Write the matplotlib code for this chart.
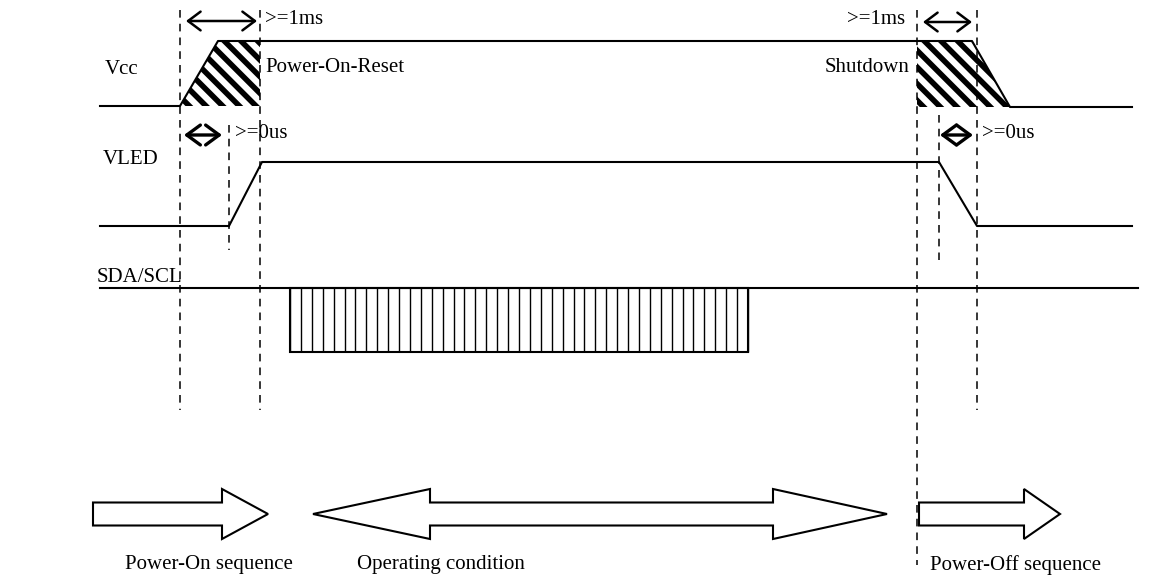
import numpy as np
import matplotlib
matplotlib.use("Agg")
import matplotlib.pyplot as plt
from matplotlib.patches import Polygon

plt.rcParams['font.family'] = ['Liberation Serif', 'DejaVu Serif']
plt.rcParams['hatch.linewidth'] = 4

# waveforms (pixel coords, y grows downward)
vcc_x = [100, 180, 218, 972, 1010, 1132]
vcc_y = [106, 106, 41, 41, 107, 107]
vled_x = [100, 229, 262, 939, 977, 1132]
vled_y = [226, 226, 162, 162, 226, 226]
sda_x = [100, 1138]
sda_y = [288, 288]
bus_box = [290, 748, 288, 352]   # x0, x1, y0, y1
bus_cells = 42

# hatched zones
por_zone = [(180, 106), (218, 41), (260, 41), (260, 106)]
sd_zone = [(917, 41), (972, 41), (1010, 107), (917, 107)]

# dashed markers: x, y0, y1
marks_x = [180, 260, 229, 917, 939, 977]
marks_y0 = [10, 10, 125, 10, 115, 10]
marks_y1 = [410, 410, 250, 565, 260, 410]

# timing arrows: x0, x1, y
big_arr = [(186, 257, 21), (923, 972, 22)]
small_arr = [(184, 222, 135), (940, 973, 135)]

# labels
sig_names = ["Vcc", "VLED", "SDA/SCL"]
sig_pos = [(105, 70), (103, 160), (97, 277)]
notes = [">=1ms", "Power-On-Reset", ">=0us", ">=1ms", "Shutdown", ">=0us"]
notes_pos = [(265, 20), (265, 68), (235, 133), (905, 20), (910, 68), (982, 133)]
notes_ha = ["left", "left", "left", "right", "right", "left"]

# sequence block arrows: tail, head base, tip (and left tip for double)
seq_names = ["Power-On sequence", "Operating condition", "Power-Off sequence"]
seq_text_x = [125, 357, 930]
seq_y = 514
arr1 = [93, 222, 268]
arr2 = [313, 430, 773, 887]
arr3 = [919, 1024, 1060]

fig = plt.figure(figsize=(11.58, 5.77), dpi=100)
ax = fig.add_axes([0, 0, 1, 1])
ax.set_xlim(0, 1158)
ax.set_ylim(577, 0)
ax.axis('off')

fs = 15

for zone in [por_zone, sd_zone]:
    ax.add_patch(Polygon(zone, closed=True, facecolor='white', edgecolor='black',
                         linewidth=0, hatch='\\\\', zorder=1))

ax.plot(vcc_x, vcc_y, color='black', lw=1.5, zorder=3)
ax.plot(vled_x, vled_y, color='black', lw=1.5, zorder=3)
ax.plot(sda_x, sda_y, color='black', lw=1.5, zorder=3)

bx0, bx1, by0, by1 = bus_box
ax.add_patch(plt.Rectangle((bx0, by0), bx1 - bx0, by1 - by0, fill=False,
                           edgecolor='black', lw=1.5, zorder=3))
ax.vlines(np.linspace(bx0, bx1, bus_cells + 1), by0, by1, color='black', lw=1, zorder=3)

for x, a, b in zip(marks_x, marks_y0, marks_y1):
    ax.plot([x, x], [a, b], color='black', lw=1.1, linestyle=(0, (5, 4)), zorder=2)

for x0, x1, y in big_arr:
    ax.annotate("", xy=(x1, y), xytext=(x0, y),
                arrowprops=dict(arrowstyle='<->,head_length=0.6,head_width=0.45',
                                lw=1.8, color='black', shrinkA=0, shrinkB=0,
                                mutation_scale=15))
for x0, x1, y in small_arr:
    ax.annotate("", xy=(x1, y), xytext=(x0, y),
                arrowprops=dict(arrowstyle='<->,head_length=0.75,head_width=0.55',
                                lw=2.4, color='black', shrinkA=0, shrinkB=0,
                                mutation_scale=13))

for name, (x, y) in zip(sig_names, sig_pos):
    ax.text(x, y, name, fontsize=fs, ha='left', va='center')
for s, (x, y), ha in zip(notes, notes_pos, notes_ha):
    ax.text(x, y, s, fontsize=fs, ha=ha, va='center')


def block_arrow(xs, yc, hb=11.5, hh=25):
    if len(xs) == 3:
        t, b, p = xs
        pts = [(t, yc - hb), (b, yc - hb), (b, yc - hh), (p, yc),
               (b, yc + hh), (b, yc + hb), (t, yc + hb)]
    else:
        lp, lb, rb, rp = xs
        pts = [(lp, yc), (lb, yc - hh), (lb, yc - hb), (rb, yc - hb), (rb, yc - hh),
               (rp, yc), (rb, yc + hh), (rb, yc + hb), (lb, yc + hb), (lb, yc + hh)]
    ax.add_patch(Polygon(pts, closed=True, facecolor='white', edgecolor='black',
                         lw=1.5, zorder=3))


block_arrow(arr1, seq_y)
block_arrow(arr2, seq_y)
block_arrow(arr3, seq_y)

for s, x in zip(seq_names, seq_text_x):
    ax.text(x, 565, s, fontsize=fs, ha='left', va='center')

fig.savefig("out.png", dpi=100)
